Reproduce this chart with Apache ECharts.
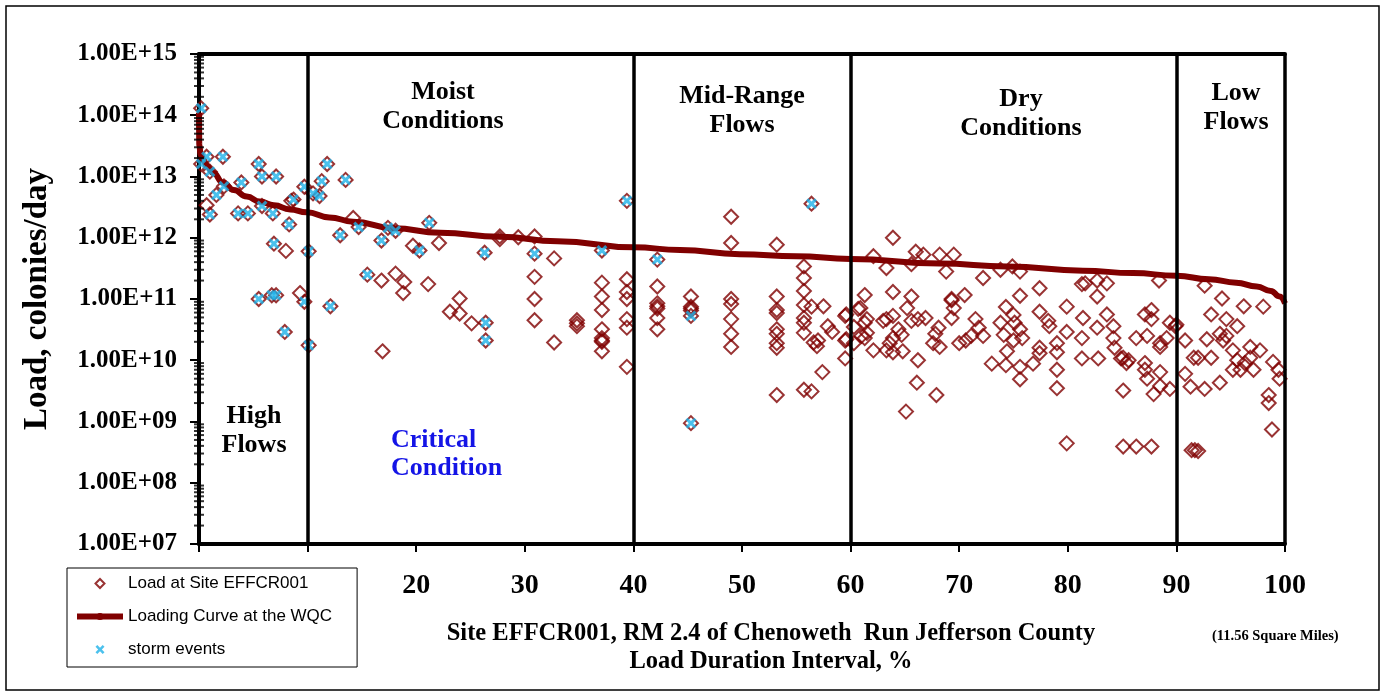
<!DOCTYPE html>
<html>
<head>
<meta charset="utf-8">
<script src="https://cdn.jsdelivr.net/npm/echarts@6/dist/echarts.min.js"></script>
<style>
  html, body { margin: 0; padding: 0; background: #fff; }
  #chart { width: 1384px; height: 696px; }
</style>
</head>
<body>
<div id="chart"></div>
<script>
// storm event samples (also plotted as load points)
var stormEvents = [
  [0.2,1.3e14],[0.7,2.1e13],[0.2,1.6e13],[1.0,1.2e13],[2.2,2.1e13],[5.5,1.6e13],[5.8,1.0e13],[7.1,1.0e13],
  [3.9,8.0e12],[2.3,6.9e12],[1.6,5.0e12],[1.0,2.4e12],[3.6,2.5e12],[4.5,2.5e12],[5.8,3.3e12],[6.8,2.5e12],
  [8.7,4.2e12],[8.3,1.65e12],[6.9,8.0e11],[9.7,6.8e12],[10.1,6.0e11],[10.5,5.3e12],[11.1,4.8e12],[11.3,8.4e12],
  [11.8,1.6e13],[13.5,8.8e12],[13.0,1.1e12],[14.7,1.5e12],[16.8,9.0e11],[17.4,1.45e12],[18.1,1.3e12],[20.3,6.2e11],
  [21.2,1.75e12],[15.5,2.5e11],[5.5,1.0e11],[6.7,1.15e11],[7.1,1.15e11],[9.7,9.0e10],[12.1,7.6e10],[7.9,2.9e10],
  [10.1,1.75e10],[26.3,5.7e11],[30.9,5.5e11],[26.4,4.1e10],[26.4,2.1e10],[37.1,6.2e11],[39.4,4.0e12],[42.2,4.4e11],
  [45.3,5.3e10],[45.3,9.4e8],[56.4,3.6e12]
];

// other load samples (non-storm)
var loadHighMoist = [
  [0.7,3.4e12],[8.5,4.0e12],[8.0,6.1e11],[9.3,1.25e11],
  [14.2,2.1e12],[19.7,7.4e11],[16.8,2.0e11],[18.1,2.6e11],[18.9,1.9e11],[18.8,1.25e11],[21.1,1.75e11],[16.9,1.4e10],
  [22.1,8.2e11],[27.7,1.05e12],[27.7,9.5e11],[29.4,1.02e12],[30.9,1.05e12],[24.0,1.02e11],[23.1,6.2e10],[24.0,5.8e10],
  [25.1,4.0e10],[30.9,2.3e11],[30.9,1.0e11],[30.9,4.5e10],[32.7,4.6e11],[32.7,1.95e10],[34.8,4.5e10],[34.8,4.0e10],
  [34.8,3.6e10],[37.1,1.85e11],[37.1,1.1e11],[37.1,6.6e10],[37.1,3.2e10],[37.1,2.3e10],[37.1,2.1e10],[37.1,2.0e10],
  [37.1,1.4e10],[39.4,2.1e11],[39.4,1.3e11],[39.4,1.0e11],[39.4,4.7e10],[39.4,3.4e10],[39.4,7.8e9]
];
var loadMidRange = [
  [42.2,1.6e11],[42.2,8.5e10],[42.2,7.6e10],[42.2,7.0e10],[42.2,4.9e10],[42.2,3.2e10],[45.3,1.1e11],[45.3,7.5e10],
  [45.3,7.0e10],[45.3,6.5e10],[49.0,2.2e12],[49.0,8.2e11],[49.0,1.0e11],[49.0,8.3e10],[49.0,4.7e10],[49.0,2.7e10],
  [49.0,1.65e10],[53.2,7.7e11],[53.2,1.1e11],[53.2,6.6e10],[53.2,5.9e10],[53.2,3.2e10],[53.2,2.7e10],[53.2,1.9e10],
  [53.2,1.6e10],[53.2,2.7e9],[55.7,3.4e11],[55.7,2.2e11],[55.7,1.35e11],[55.7,8.0e10],[55.7,4.9e10],[55.7,4.1e10],
  [55.7,2.8e10],[56.4,7.5e10],[55.7,3.3e9],[56.4,3.1e9],[56.6,1.95e10],[57.0,2.1e10],[57.5,7.6e10],[57.9,3.6e10],
  [58.3,2.9e10],[57.4,6.4e9],[56.9,1.7e10],[59.5,5.3e10],[59.5,2.1e10],[59.5,1.07e10],[59.6,5.6e10],[59.6,2.2e10]
];
var loadDry = [
  [60.3,3.5e10],[60.3,1.9e10],[60.9,7.1e10],[61.3,1.16e11],[61.5,4.7e10],[61.5,2.8e10],[62.1,5.0e11],[63.3,3.2e11],
  [63.9,1.0e12],[63.9,1.3e11],[62.1,1.45e10],[63.3,4.7e10],[63.3,1.45e10],[65.6,3.7e11],[66.0,5.9e11],[66.7,5.3e11],
  [68.2,5.3e11],[69.5,5.3e11],[68.8,2.8e11],[72.2,2.2e11],[73.8,3.0e11],[74.9,3.4e11],[75.6,2.8e11],[77.4,1.5e11],
  [81.3,1.75e11],[65.6,1.1e11],[60.7,6.9e10],[69.3,1.0e11],[69.3,9.5e10],[70.5,1.16e11],[65.2,7.1e10],[66.9,4.9e10],
  [75.6,1.13e11],[74.3,7.4e10],[75.0,5.5e10],[77.4,6.2e10],[79.9,7.5e10],[81.4,4.9e10],[61.3,4.1e10],[61.0,2.5e10],
  [61.3,2.3e10],[63.0,4.4e10],[63.9,5.3e10],[64.4,3.2e10],[63.9,2.3e10],[64.7,2.6e10],[63.6,1.9e10],[63.9,1.35e10],
  [64.8,1.4e10],[65.6,4.4e10],[66.2,4.7e10],[66.2,1.0e10],[66.1,4.3e9],[65.1,1.45e9],[67.9,2.7e9],[68.1,3.4e10],
  [67.8,2.7e10],[67.6,1.9e10],[68.2,1.65e10],[69.5,7.1e10],[69.3,4.9e10],[70.0,1.9e10],[70.6,2.1e10],[71.1,2.5e10],
  [71.5,4.7e10],[71.8,3.4e10],[72.2,2.5e10],[73.0,8.8e9],[73.8,4.1e10],[74.1,2.6e10],[74.4,1.4e10],[75.0,2.1e10],
  [75.6,3.2e10],[75.8,2.3e10],[75.1,4.1e10],[74.3,8.3e9],[75.6,7.8e9],[75.6,4.9e9],[76.8,8.8e9],[77.4,1.3e10],
  [77.4,1.6e10],[78.2,4.4e10],[78.3,3.6e10],[79.0,1.9e10],[79.0,1.35e10],[79.0,7.0e9],[79.0,3.5e9],[79.9,2.9e10],
  [81.3,2.3e10],[81.3,1.07e10],[79.9,4.4e8],[81.6,1.8e11],[82.7,2.0e11],[83.6,1.8e11],[82.7,1.1e11],[88.4,2.0e11],
  [83.6,5.6e10],[84.2,3.6e10],[82.7,3.4e10],[82.8,1.07e10],[84.2,2.3e10],[84.3,1.6e10],[85.1,1.1e10],[85.6,1.0e10],
  [84.9,1.07e10],[85.4,9.0e9],[86.3,2.3e10],[87.1,5.6e10],[87.7,6.6e10],[87.7,4.7e10],[87.3,2.5e10],[87.1,9.0e9],
  [87.1,7.0e9],[87.3,5.0e9],[88.5,6.4e9],[88.5,1.9e10],[88.5,1.65e10],[87.9,2.8e9],[88.5,3.8e9],[89.4,3.4e9],
  [85.1,3.2e9],[85.1,3.9e8],[86.3,3.9e8],[87.7,3.9e8],[89.4,4.1e10],[89.9,3.6e10],[90.0,3.8e10],[89.1,2.3e10]
];
var loadLow = [
  [90.8,2.1e10],[90.8,6.0e9],[91.3,3.7e9],[92.6,3.4e9],[91.6,1.1e10],[92.0,1.1e10],[91.4,3.4e8],[91.7,3.4e8],
  [92.0,3.3e8],[92.6,1.65e11],[94.2,1.02e11],[96.2,7.6e10],[98.0,7.5e10],[93.2,5.6e10],[94.6,4.7e10],[95.6,3.6e10],
  [94.0,2.7e10],[94.3,2.1e10],[94.6,2.5e10],[92.8,2.2e10],[93.2,1.1e10],[94.0,4.3e9],[95.2,1.45e10],[95.6,1.0e10],
  [95.2,7.0e9],[95.9,7.0e9],[96.3,9.0e9],[96.8,1.1e10],[97.1,7.0e9],[96.8,1.65e10],[97.7,1.45e10],[98.9,9.4e9],
  [99.4,7.0e9],[99.5,5.0e9],[98.5,2.7e9],[98.5,2.0e9],[98.8,7.4e8]
];

// loading curve at the water quality criterion
var loadingCurve = [
  [0,1.1e14],[0.03,3.2e13],[0.15,2.3e13],[0.45,1.8e13],[0.7,1.5e13],[1.3,1.15e13],[2.2,8.0e12],[3.2,6.0e12],
  [4.4,4.7e12],[5.6,3.9e12],[6.9,3.4e12],[8.4,2.9e12],[9.9,2.6e12],[12,2.15e12],[14.2,1.83e12],[17.9,1.43e12],
  [22.2,1.21e12],[27.7,1.04e12],[33,8.8e11],[40,7.0e11],[44.3,6.3e11],[49.8,5.4e11],[55,5.0e11],[60,4.5e11],
  [68.2,3.8e11],[74.4,3.4e11],[81.4,2.9e11],[86,2.65e11],[90,2.4e11],[93,2.1e11],[95.5,1.85e11],[97.4,1.6e11],
  [98.7,1.35e11],[99.5,1.1e11],[100,8.5e10]
];

var zoneBoundaries = [10, 40, 60, 90, 100];
var minorTickDecades = [1e7, 1e8, 1e9, 1e10, 1e11, 1e12, 1e13, 1e14];
var minorTickSteps = [2, 3, 4, 5, 6, 7, 8, 9];

var serif = '"Liberation Serif", "Times New Roman", serif';
var maroon = '#800000';
var stormColor = '#1EB2E8';
var xMark = 'path://M0,2L2,0L5,3L8,0L10,2L7,5L10,8L8,10L5,7L2,10L0,8L3,5Z';
// legend icon: small diamond centred in the 46px-wide icon box
var legendDiamond = 'path://M0,0M46,9M18.5,4.5L23,0L27.5,4.5L23,9Z';

var loadPoints = loadHighMoist.concat(loadMidRange, loadDry, loadLow, stormEvents);
var minorTicks = [];
minorTickDecades.forEach(function (d) {
  minorTickSteps.forEach(function (s) { minorTicks.push([0, s * d]); });
});

var chart = echarts.init(document.getElementById('chart'));
chart.setOption({
  animation: false,
  backgroundColor: '#fff',
  grid: { left: 199, right: 99, top: 54, bottom: 152 },
  legend: {
    orient: 'vertical',
    left: 67,
    top: 568,
    data: [
      { name: 'Load at Site EFFCR001', icon: legendDiamond },
      { name: 'Loading Curve at the WQC' },
      { name: 'storm events' }
    ],
    itemWidth: 46,
    itemHeight: 9,
    itemGap: 16,
    lineStyle: { width: 6 },
    padding: [7, 25, 9, 7],
    backgroundColor: '#fff',
    borderColor: '#000',
    borderWidth: 1,
    borderRadius: 0,
    textStyle: { fontFamily: '"Liberation Sans", Arial, sans-serif', fontSize: 17, color: '#000', lineHeight: 17 }
  },
  xAxis: [{
    type: 'value',
    min: 0,
    max: 100,
    interval: 10,
    axisLine: { onZero: false, lineStyle: { color: '#000', width: 4 } },
    axisTick: { length: 8, lineStyle: { color: '#000', width: 2 } },
    axisLabel: { margin: 28, color: '#000', fontFamily: serif, fontWeight: 'bold', fontSize: 28 },
    splitLine: { show: false }
  }, {
    type: 'value',
    position: 'top',
    min: 0,
    max: 100,
    axisLine: { show: true, onZero: false, lineStyle: { color: '#000', width: 4 } },
    axisTick: { show: false },
    axisLabel: { show: false },
    splitLine: { show: false }
  }],
  yAxis: {
    type: 'log',
    logBase: 10,
    min: 1e7,
    max: 1e15,
    name: 'Load, colonies/day',
    nameLocation: 'middle',
    nameGap: 145,
    nameTextStyle: { color: '#000', fontFamily: serif, fontWeight: 'bold', fontSize: 33 },
    axisLine: { show: true, lineStyle: { color: '#000', width: 4 } },
    axisTick: { show: true, length: 9, lineStyle: { color: '#000', width: 2 } },
    axisLabel: {
      margin: 22, color: '#000', fontFamily: serif, fontWeight: 'bold', fontSize: 25,
      formatter: function (v) {
        var e = Math.round(Math.log10(v));
        return '1.00E+' + (e < 10 ? '0' + e : e);
      }
    },
    splitLine: { show: false }
  },
  series: [{
    name: 'Load at Site EFFCR001',
    type: 'scatter',
    data: loadPoints,
    symbol: 'diamond',
    symbolSize: 14,
    itemStyle: { color: 'rgba(255,255,255,0)', borderColor: maroon, borderWidth: 2 },
    z: 2,
    markLine: {
      silent: true,
      symbol: 'none',
      label: { show: false },
      lineStyle: { color: '#000', width: 3.5, type: 'solid' },
      data: zoneBoundaries.map(function (v) { return { xAxis: v }; })
    }
  }, {
    name: 'Loading Curve at the WQC',
    type: 'line',
    data: loadingCurve,
    symbol: 'none',
    smooth: 0.5,
    smoothMonotone: 'x',
    lineStyle: { color: maroon, width: 6 },
    itemStyle: { color: maroon },
    z: 3
  }, {
    name: 'storm events',
    type: 'scatter',
    data: stormEvents,
    symbol: xMark,
    symbolSize: 11,
    itemStyle: { color: stormColor },
    z: 4
  }, {
    name: 'minor ticks',
    type: 'scatter',
    data: minorTicks,
    symbol: 'rect',
    symbolSize: [10, 2],
    clip: false,
    silent: true,
    itemStyle: { color: '#000' },
    z: 5
  }],
  graphic: [
    { type: 'rect', shape: { x: 6, y: 6, width: 1373, height: 684 }, style: { fill: 'none', stroke: '#000', lineWidth: 1.5 }, z: -1 },
    { type: 'text', x: 443, y: 78, style: { text: 'Moist\nConditions', font: 'bold 26px ' + serif, fill: '#000', textAlign: 'center', lineHeight: 29 } },
    { type: 'text', x: 742, y: 82, style: { text: 'Mid-Range\nFlows', font: 'bold 26px ' + serif, fill: '#000', textAlign: 'center', lineHeight: 29 } },
    { type: 'text', x: 1021, y: 85, style: { text: 'Dry\nConditions', font: 'bold 26px ' + serif, fill: '#000', textAlign: 'center', lineHeight: 29 } },
    { type: 'text', x: 1236, y: 79, style: { text: 'Low\nFlows', font: 'bold 26px ' + serif, fill: '#000', textAlign: 'center', lineHeight: 29 } },
    { type: 'text', x: 254, y: 402, style: { text: 'High\nFlows', font: 'bold 26px ' + serif, fill: '#000', textAlign: 'center', lineHeight: 29 } },
    { type: 'text', x: 391, y: 426, style: { text: 'Critical\nCondition', font: 'bold 26px ' + serif, fill: '#1414E6', textAlign: 'left', lineHeight: 28 } },
    { type: 'text', x: 771, y: 634, style: { text: 'Site EFFCR001, RM 2.4 of Chenoweth  Run Jefferson County', font: 'bold 24.5px ' + serif, fill: '#000', textAlign: 'center', textVerticalAlign: 'middle' } },
    { type: 'text', x: 771, y: 662, style: { text: 'Load Duration Interval, %', font: 'bold 24.5px ' + serif, fill: '#000', textAlign: 'center', textVerticalAlign: 'middle' } },
    { type: 'text', x: 1212, y: 636, style: { text: '(11.56 Square Miles)', font: 'bold 14.5px ' + serif, fill: '#000', textAlign: 'left', textVerticalAlign: 'middle' } }
  ]
});
</script>
</body>
</html>
